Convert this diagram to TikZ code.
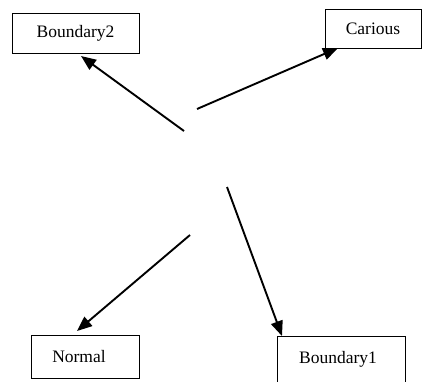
\documentclass[tikz,border=0pt]{standalone}
\usepackage{fontspec}
\setmainfont{Liberation Serif}
\usetikzlibrary{arrows.meta}
\begin{document}
\begin{tikzpicture}[x=1pt,y=-1pt,
  box/.style={draw,line width=0.9pt,rectangle,inner sep=0pt,font=\fontsize{17.5}{20}\selectfont},
  arr/.style={line width=1.9pt,-{Triangle[length=15pt,width=12pt]}}]
\useasboundingbox (0,0) rectangle (422,381);
\node[box,minimum width=127pt,minimum height=40pt] (b2) at (75.5,33) {Boundary2};
\node[box,minimum width=96pt,minimum height=39pt] (car) at (373,29) {Carious};
\node[box,minimum width=108pt,minimum height=43pt] (nor) at (85,356.5) {\hspace*{-12pt}Normal};
\node[box,minimum width=128pt,minimum height=46pt] (b1) at (341,359) {\hspace*{-6pt}Boundary1};
\coordinate (t1) at (184,131);
\coordinate (t2) at (197,109);
\coordinate (t3) at (190,235);
\coordinate (t4) at (227,187);
\coordinate (h1) at (81,56);
\coordinate (h2) at (338,48);
\coordinate (h3) at (77,331);
\coordinate (h4) at (282,336);
\draw[arr] (t1) -- (h1);
\draw[arr] (t2) -- (h2);
\draw[arr] (t3) -- (h3);
\draw[arr] (t4) -- (h4);
\end{tikzpicture}
\end{document}
